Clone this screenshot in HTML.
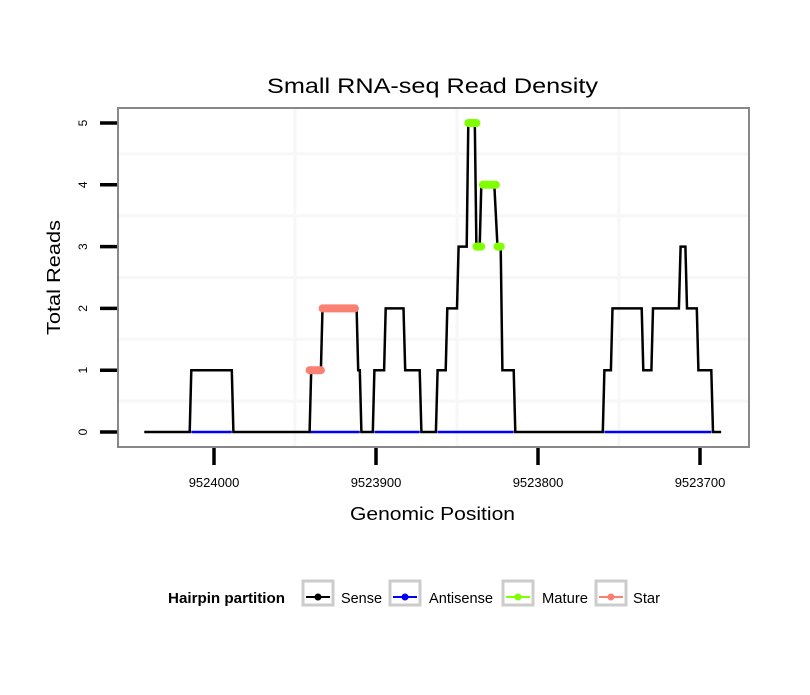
<!DOCTYPE html>
<html><head><meta charset="utf-8"><style>
body{margin:0;background:#fff}
svg text{font-family:"Liberation Sans",Arial,sans-serif}
</style></head><body>
<svg id="chart" width="810" height="690" xmlns="http://www.w3.org/2000/svg">
<rect width="810" height="690" fill="#fff"/>
<text x="267" y="93" font-size="21" textLength="331" lengthAdjust="spacingAndGlyphs">Small RNA-seq Read Density</text>
<g id="grid"></g>
<g id="series"></g>
<rect x="118" y="108" width="631" height="339" fill="none" stroke="#888" stroke-width="2"/>
<g id="axes"></g>
<text x="350" y="520" font-size="18" textLength="165" lengthAdjust="spacingAndGlyphs">Genomic Position</text>
<text transform="translate(60,335) rotate(-90)" font-size="18" textLength="115" lengthAdjust="spacingAndGlyphs">Total Reads</text>
<g>
<text x="168" y="603" font-size="15" font-weight="bold" textLength="117" lengthAdjust="spacingAndGlyphs">Hairpin partition</text>
<g><rect x="303" y="581" width="30" height="24" fill="#fff" stroke="#ccc" stroke-width="3"/><line x1="306" y1="597" x2="330" y2="597" stroke="#000" stroke-width="2"/><circle cx="318" cy="597" r="3.5" fill="#000"/><text x="341" y="603" font-size="15" textLength="41" lengthAdjust="spacingAndGlyphs">Sense</text></g>
<g><rect x="390" y="581" width="30" height="24" fill="#fff" stroke="#ccc" stroke-width="3"/><line x1="393" y1="597" x2="417" y2="597" stroke="#00f" stroke-width="2"/><circle cx="405" cy="597" r="3.5" fill="#00f"/><text x="429" y="603" font-size="15" textLength="64" lengthAdjust="spacingAndGlyphs">Antisense</text></g>
<g><rect x="503" y="581" width="30" height="24" fill="#fff" stroke="#ccc" stroke-width="3"/><line x1="506" y1="597" x2="530" y2="597" stroke="#7fff00" stroke-width="2"/><circle cx="518" cy="597" r="3.5" fill="#7fff00"/><text x="542" y="603" font-size="15" textLength="46" lengthAdjust="spacingAndGlyphs">Mature</text></g>
<g><rect x="596" y="581" width="30" height="24" fill="#fff" stroke="#ccc" stroke-width="3"/><line x1="599" y1="597" x2="623" y2="597" stroke="#fa8072" stroke-width="2"/><circle cx="611" cy="597" r="3.5" fill="#fa8072"/><text x="633" y="603" font-size="15" textLength="27" lengthAdjust="spacingAndGlyphs">Star</text></g>
</g>
</svg>
<script>
const sensePos=[9524043,9524015,9524014,9523989,9523988,9523941,9523940,9523934,9523933,9523912,9523911,9523910,9523909,9523902,9523901,9523895,9523894,9523883,9523882,9523873,9523872,9523863,9523862,9523857,9523856,9523850,9523849,9523844,9523843,9523839,9523838,9523836,9523835,9523827,9523825,9523823,9523822,9523815,9523814,9523760,9523759,9523755,9523754,9523736,9523735,9523730,9523729,9523713,9523712,9523709,9523708,9523702,9523701,9523693,9523692,9523687];
const senseVal=[0,0,1,1,0,0,1,1,2,2,1,1,0,0,1,1,2,2,1,1,0,0,1,1,2,2,3,3,5,5,3,3,4,4,3,3,1,1,0,0,1,1,2,2,1,1,2,2,3,3,2,2,1,1,0,0];
const antiStart=[9524014,9523941,9523901,9523862,9523759];
const antiEnd=[9523989,9523910,9523873,9523815,9523693];
const starStart=[9523941,9523933];
const starEnd=[9523934,9523913];
const starVal=[1,2];
const matStart=[9523843,9523834,9523838,9523825];
const matEnd=[9523838,9523826,9523835,9523823];
const matVal=[5,4,3,3];
const xTicks=[9524000,9523900,9523800,9523700];
const yTicks=[0,1,2,3,4,5];
const NS='http://www.w3.org/2000/svg';
function X(p){return 214+(9524000-p)*1.62;}
function Y(v){return 432-v*61.8;}
function mk(parent,tag,attrs){const e=document.createElementNS(NS,tag);for(const k in attrs)e.setAttribute(k,attrs[k]);document.getElementById(parent).appendChild(e);return e;}
[0.5,1.5,2.5,3.5,4.5].forEach(v=>{const l=mk('grid','line',{x1:119,x2:748,y1:Y(v),y2:Y(v),stroke:'#f7f7f7','stroke-width':3});

});
[9523950,9523850,9523750].forEach(p=>{const l=mk('grid','line',{x1:X(p),x2:X(p),y1:109,y2:446,stroke:'#f7f7f7','stroke-width':3});

});
antiStart.forEach((s,i)=>{const l=mk('series','line',{x1:X(s),x2:X(antiEnd[i]),y1:Y(0),y2:Y(0),stroke:'#00f','stroke-width':2.5});

});
const pts=sensePos.map((p,i)=>X(p).toFixed(1)+','+Y(senseVal[i]).toFixed(1)).join(' ');
const sl=mk('series','polyline',{points:pts,fill:'none',stroke:'#000','stroke-width':2.5});


starStart.forEach((s,i)=>{const l=mk('series','line',{x1:X(s),x2:X(starEnd[i]),y1:Y(starVal[i]),y2:Y(starVal[i]),stroke:'#fa8072','stroke-width':8,'stroke-linecap':'round'});

});
matStart.forEach((s,i)=>{const l=mk('series','line',{x1:X(s),x2:X(matEnd[i]),y1:Y(matVal[i]),y2:Y(matVal[i]),stroke:'#7fff00','stroke-width':8,'stroke-linecap':'round'});

});
yTicks.forEach(v=>{const t=mk('axes','line',{x1:100,x2:117,y1:Y(v),y2:Y(v),stroke:'#000','stroke-width':3.5});


const tx=mk('axes','text',{transform:'translate(87,'+Y(v)+') rotate(-90)','font-size':12,'text-anchor':'middle'});
tx.textContent=v;

});
xTicks.forEach(p=>{const t=mk('axes','line',{x1:X(p),x2:X(p),y1:448,y2:465,stroke:'#000','stroke-width':3.5});


const tx=mk('axes','text',{x:X(p),y:487,'font-size':13,'text-anchor':'middle'});
tx.textContent=p;

});
</script>
</body></html>
